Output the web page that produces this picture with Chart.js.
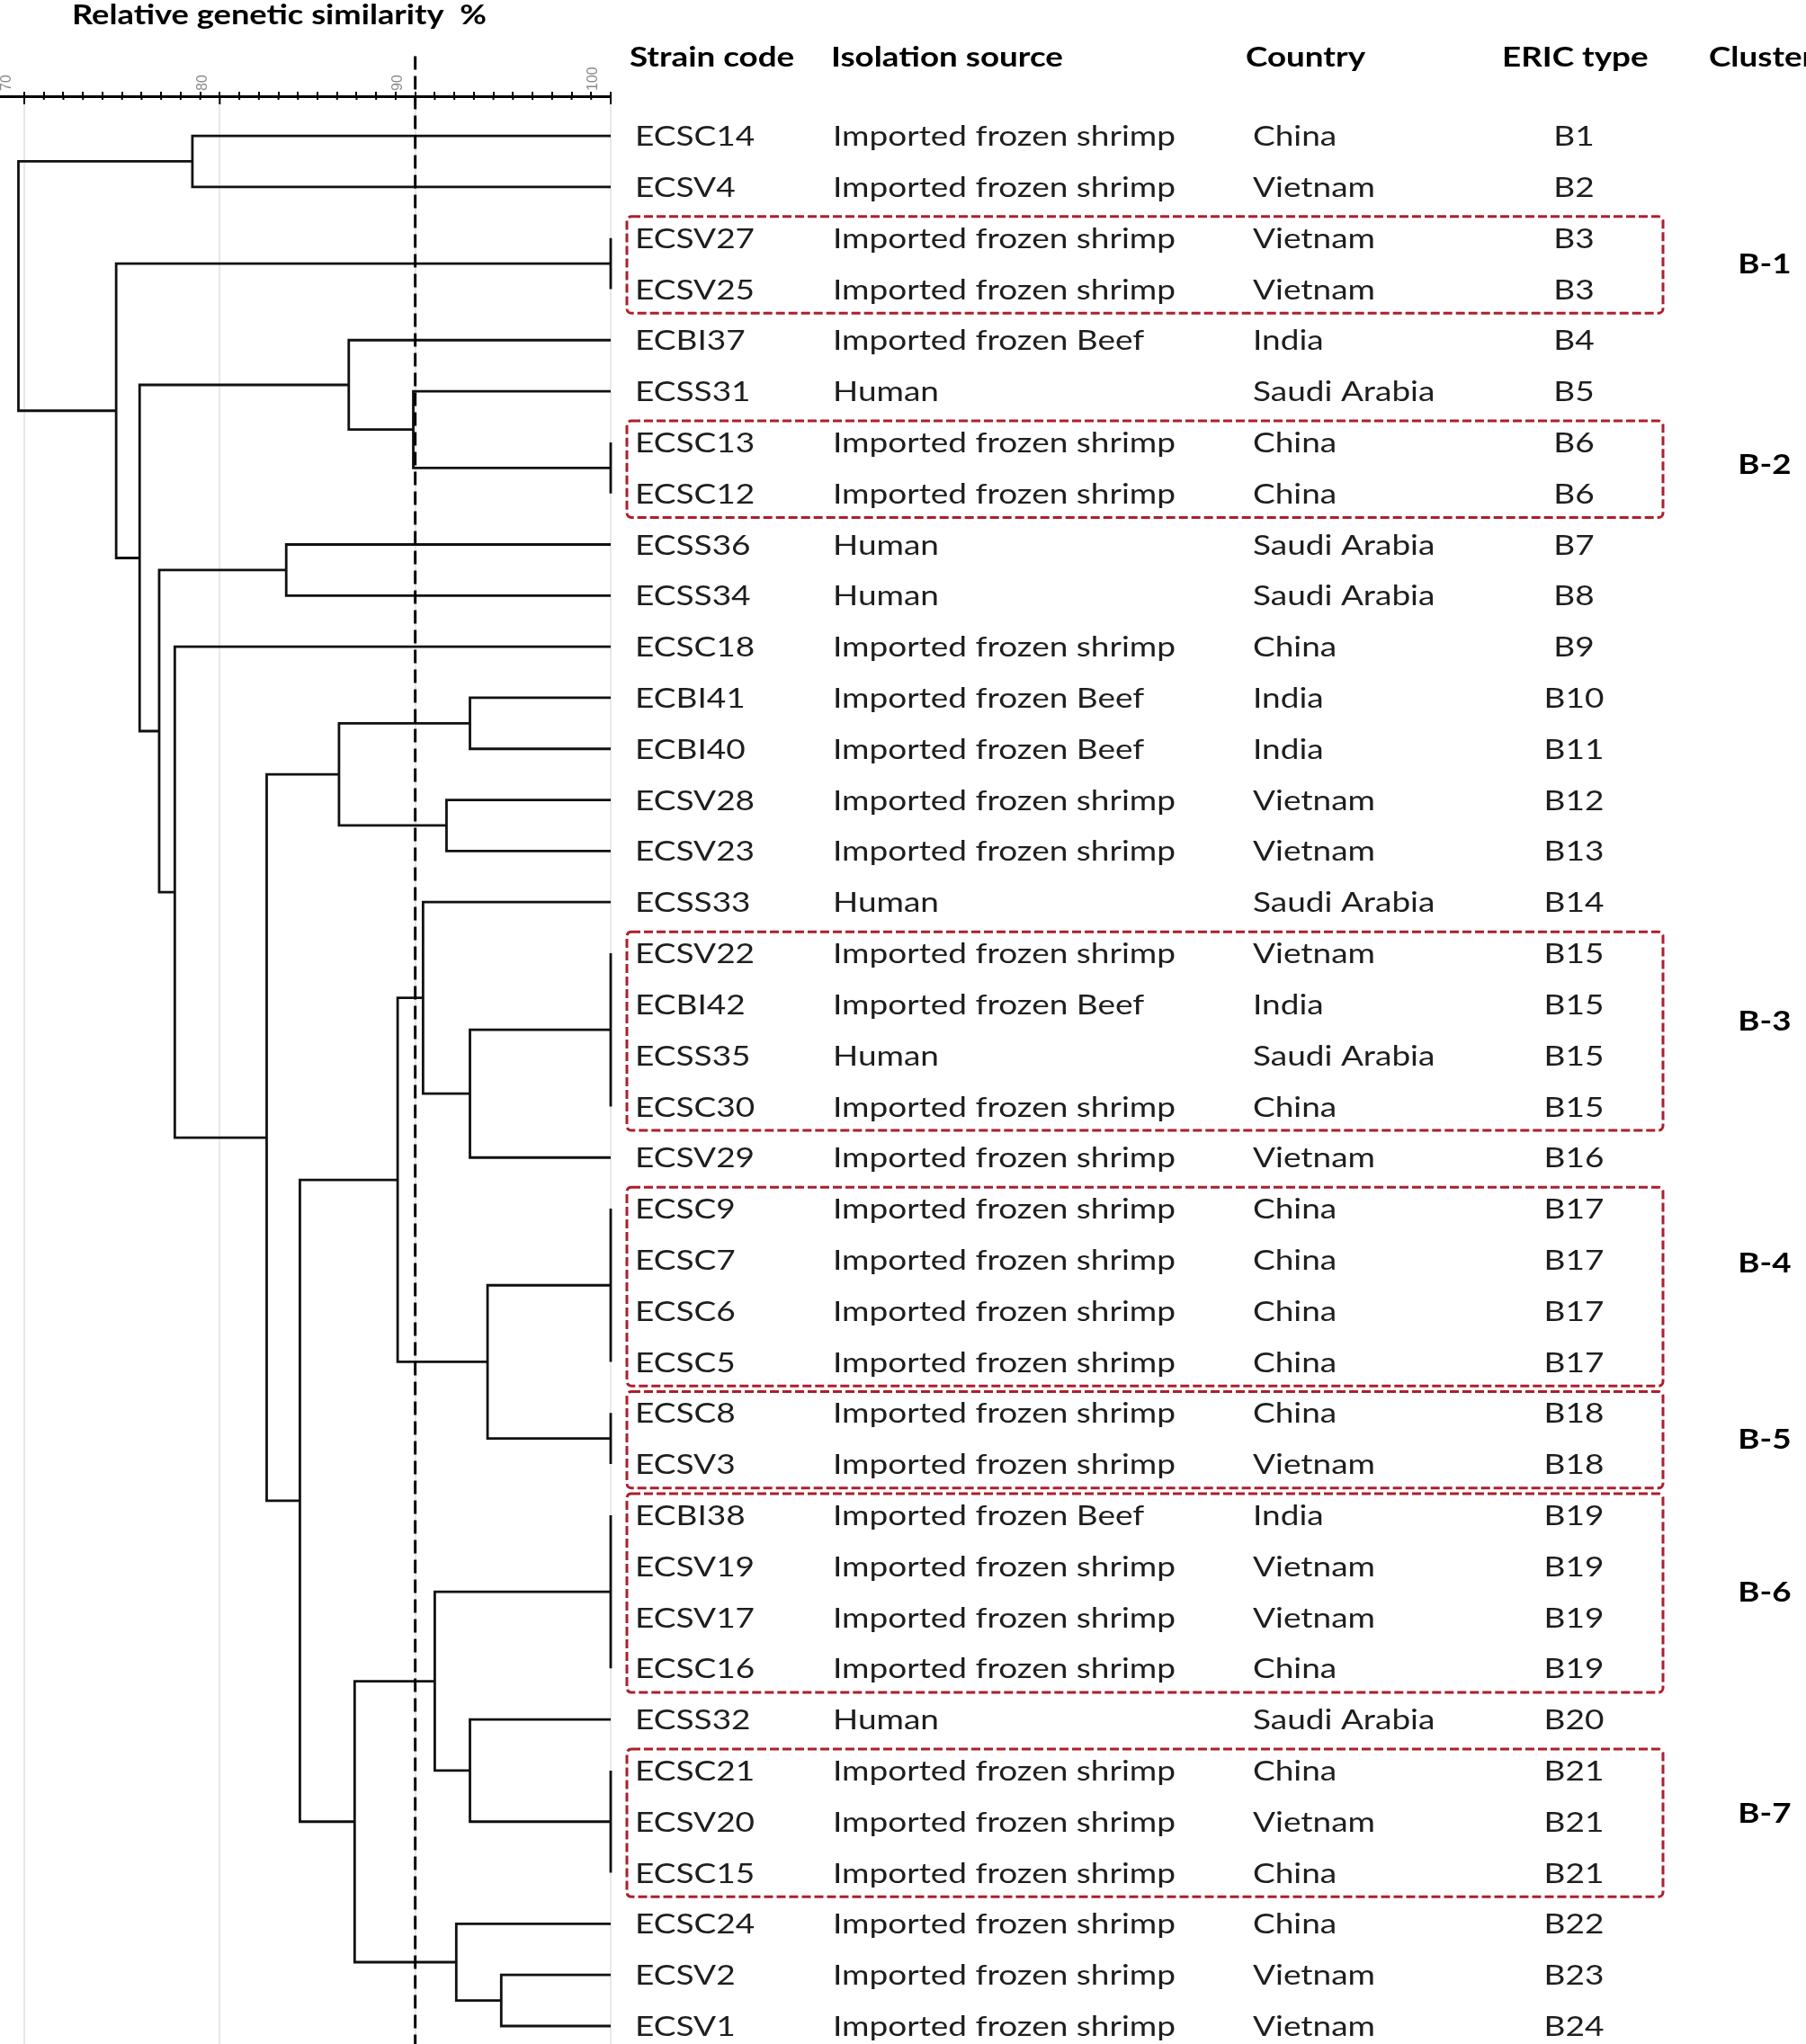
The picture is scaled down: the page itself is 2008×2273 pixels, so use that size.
<!DOCTYPE html>
<html>
<head>
<meta charset="utf-8">
<title>ERIC-PCR dendrogram</title>
<script src="https://cdn.jsdelivr.net/npm/chart.js@4.4.1/dist/chart.umd.min.js"></script>
<style>
    html, body { margin: 0; padding: 0; background: #fff; }
    #wrap { width: 2008px; height: 2273px; position: relative; }
</style>
</head>
<body>
<div id="wrap"><canvas id="dendro" width="2008" height="2273"></canvas></div>
<script>
/* DATA (rows top to bottom) */

const strainCodes = [
    'ECSC14', 'ECSV4', 'ECSV27', 'ECSV25', 'ECBI37', 'ECSS31', 'ECSC13', 'ECSC12',
    'ECSS36', 'ECSS34', 'ECSC18', 'ECBI41', 'ECBI40', 'ECSV28', 'ECSV23', 'ECSS33',
    'ECSV22', 'ECBI42', 'ECSS35', 'ECSC30', 'ECSV29', 'ECSC9', 'ECSC7', 'ECSC6',
    'ECSC5', 'ECSC8', 'ECSV3', 'ECBI38', 'ECSV19', 'ECSV17', 'ECSC16', 'ECSS32',
    'ECSC21', 'ECSV20', 'ECSC15', 'ECSC24', 'ECSV2', 'ECSV1'
]

const SHRIMP = 'Imported frozen shrimp'
const BEEF = 'Imported frozen Beef'
const HUMAN = 'Human'

const isolationSources = [
    SHRIMP, SHRIMP, SHRIMP, SHRIMP, BEEF, HUMAN, SHRIMP, SHRIMP,
    HUMAN, HUMAN, SHRIMP, BEEF, BEEF, SHRIMP, SHRIMP, HUMAN,
    SHRIMP, BEEF, HUMAN, SHRIMP, SHRIMP, SHRIMP, SHRIMP, SHRIMP,
    SHRIMP, SHRIMP, SHRIMP, BEEF, SHRIMP, SHRIMP, SHRIMP, HUMAN,
    SHRIMP, SHRIMP, SHRIMP, SHRIMP, SHRIMP, SHRIMP
]

const countries = [
    'China', 'Vietnam', 'Vietnam', 'Vietnam', 'India', 'Saudi Arabia', 'China', 'China',
    'Saudi Arabia', 'Saudi Arabia', 'China', 'India', 'India', 'Vietnam', 'Vietnam', 'Saudi Arabia',
    'Vietnam', 'India', 'Saudi Arabia', 'China', 'Vietnam', 'China', 'China', 'China',
    'China', 'China', 'Vietnam', 'India', 'Vietnam', 'Vietnam', 'China', 'Saudi Arabia',
    'China', 'Vietnam', 'China', 'China', 'Vietnam', 'Vietnam'
]

const ericTypes = [
    'B1', 'B2', 'B3', 'B3', 'B4', 'B5', 'B6', 'B6',
    'B7', 'B8', 'B9', 'B10', 'B11', 'B12', 'B13', 'B14',
    'B15', 'B15', 'B15', 'B15', 'B16', 'B17', 'B17', 'B17',
    'B17', 'B18', 'B18', 'B19', 'B19', 'B19', 'B19', 'B20',
    'B21', 'B21', 'B21', 'B22', 'B23', 'B24'
]

const columnHeaders = ['Strain code', 'Isolation source', 'Country', 'ERIC type', 'Cluster']

const clusterNames = ['B-1', 'B-2', 'B-3', 'B-4', 'B-5', 'B-6', 'B-7']
const clusterFirstRow = [2, 6, 16, 21, 25, 27, 32]
const clusterLastRow = [3, 7, 19, 24, 26, 30, 34]

// merges, bottom-up: numbers are leaf rows, 'n#' points to an earlier merge
const mergeChildren = [
    [2, 3],            // n0  B3 identical
    [6, 7],            // n1  B6
    [16, 17, 18, 19],  // n2  B15
    [21, 22, 23, 24],  // n3  B17
    [25, 26],          // n4  B18
    [27, 28, 29, 30],  // n5  B19
    [32, 33, 34],      // n6  B21
    [0, 1],            // n7
    [5, 'n1'],         // n8
    [4, 'n8'],         // n9
    [8, 9],            // n10
    [11, 12],          // n11
    [13, 14],          // n12
    ['n11', 'n12'],    // n13
    ['n2', 20],        // n14
    [15, 'n14'],       // n15
    ['n3', 'n4'],      // n16
    ['n15', 'n16'],    // n17
    [31, 'n6'],        // n18
    ['n5', 'n18'],     // n19
    [36, 37],          // n20
    [35, 'n20'],       // n21
    ['n19', 'n21'],    // n22
    ['n17', 'n22'],    // n23
    ['n13', 'n23'],    // n24
    [10, 'n24'],       // n25
    ['n10', 'n25'],    // n26
    ['n9', 'n26'],     // n27
    ['n0', 'n27'],     // n28
    ['n7', 'n28']      // n29 root
]

const mergeSimilarity = [
    100, 100, 100, 100, 100, 100, 100,
    78.6, 89.9, 86.6, 83.4, 92.8, 91.6, 86.1, 92.8, 90.4, 93.7, 89.1,
    92.8, 91.0, 94.4, 92.1, 86.9, 84.1, 82.4, 77.7, 76.9, 75.9, 74.7, 69.7
]

const axisTicks = [70, 80, 90, 100]
const axisTickLabels = ['70', '80', '90', '100']
const cutoffSimilarity = 90
const leafTip = 100

/* TREE -> DATASETS */

const lineStyle = {
    showLine: true,
    pointRadius: 0,
    borderColor: '#111',
    borderWidth: 2.8,
    borderJoinStyle: 'miter',
    borderCapStyle: 'butt',
    tension: 0,
    clip: false
}

const mergeY = []

function childPoint(c) {
    if (typeof c === 'number') return { x: leafTip, y: c }
    const k = Number(c.slice(1))
    return { x: mergeSimilarity[k], y: mergeY[k] }
}

const treeDatasets = mergeChildren.map((kids, i) => {
    const s = mergeSimilarity[i]
    const pts = kids.map(childPoint).sort((a, b) => a.y - b.y)
    const first = pts[0]
    const last = pts[pts.length - 1]
    mergeY[i] = (first.y + last.y) / 2
    return {
        label: 'n' + i,
        data: [
            { x: first.x, y: first.y },
            { x: s, y: first.y },
            { x: s, y: last.y },
            { x: last.x, y: last.y }
        ],
        ...lineStyle
    }
})

const Y_MIN = -0.775
const Y_MAX = 37.352

const cutoffDataset = {
    label: 'cutoff',
    data: [{ x: cutoffSimilarity, y: -1.56 }, { x: cutoffSimilarity, y: Y_MAX }],
    ...lineStyle,
    borderColor: '#000',
    borderWidth: 3,
    borderDash: [15, 7]
}

/* TABLE + DECOR */

const FONT = 'Lato, "Open Sans", sans-serif'
const FONT_SIZE = 31
const CAP_HALF = FONT_SIZE * 0.358

const COL_X = [706, 926, 1393, 1750]
const HEAD_X = [700, 924, 1385, 1670, 1900]
const BOX_LEFT = 697
const BOX_RIGHT = 1849
const CLUSTER_X = 1962
const CLUSTER_NUDGE = [0, -4, -10, -25, 0, 0, -10]

function stretchText(ctx, text, x, y, align, sx) {
    ctx.save()
    ctx.translate(x, y)
    ctx.scale(sx, 1)
    ctx.textAlign = align
    ctx.textBaseline = 'alphabetic'
    ctx.fillText(text, 0, 0)
    ctx.restore()
}

const tablePlugin = {
    id: 'strainTable',
    afterDraw(chart) {
        const { ctx } = chart
        const x = chart.scales.x
        const y = chart.scales.y

        // tick marks below the axis line
        ctx.save()
        ctx.strokeStyle = '#000'
        ctx.lineWidth = 2
        x.ticks.forEach((t) => {
            const px = x.getPixelForValue(t.value)
            const len = t.value % 10 === 0 ? 9 : 4
            ctx.beginPath()
            ctx.moveTo(px, x.bottom)
            ctx.lineTo(px, x.bottom + len)
            ctx.stroke()
        })
        ctx.restore()

        const regular = `${FONT_SIZE}px ${FONT}`
        const bold = `bold ${FONT_SIZE}px ${FONT}`

        ctx.font = regular
        const sxBody = 381 / ctx.measureText(SHRIMP).width
        ctx.font = bold
        const sxBold = 258 / ctx.measureText('Isolation source').width
        const title = 'Relative genetic similarity  %'
        const sxTitle = 461 / ctx.measureText(title).width

        // title
        ctx.fillStyle = '#000'
        stretchText(ctx, title, 80, 16 + CAP_HALF, 'left', sxTitle)

        // headers
        columnHeaders.forEach((h, i) => {
            stretchText(ctx, h, HEAD_X[i], 63 + CAP_HALF, 'left', sxBold)
        })

        // rows
        ctx.font = regular
        ctx.fillStyle = '#1e1e1e'
        strainCodes.forEach((code, i) => {
            const py = y.getPixelForValue(i) + CAP_HALF
            stretchText(ctx, code, COL_X[0], py, 'left', sxBody)
            stretchText(ctx, isolationSources[i], COL_X[1], py, 'left', sxBody)
            stretchText(ctx, countries[i], COL_X[2], py, 'left', sxBody)
            stretchText(ctx, ericTypes[i], COL_X[3], py, 'center', sxBody)
        })

        // cluster boxes + labels
        clusterNames.forEach((name, i) => {
            const top = y.getPixelForValue(clusterFirstRow[i] - 0.42)
            const bot = y.getPixelForValue(clusterLastRow[i] + 0.47)
            ctx.save()
            ctx.strokeStyle = '#ad1f2b'
            ctx.lineWidth = 3
            ctx.setLineDash([10, 4])
            ctx.beginPath()
            ctx.roundRect(BOX_LEFT, top, BOX_RIGHT - BOX_LEFT, bot - top, 5)
            ctx.stroke()
            ctx.restore()

            const mid = y.getPixelForValue((clusterFirstRow[i] + clusterLastRow[i]) / 2)
            ctx.font = bold
            ctx.fillStyle = '#000'
            stretchText(ctx, name, CLUSTER_X, mid + CLUSTER_NUDGE[i] + CAP_HALF, 'center', sxBold)
        })
    }
}

/* CHART */

new Chart(document.getElementById('dendro'), {
    type: 'scatter',
    data: { datasets: [cutoffDataset, ...treeDatasets] },
    options: {
        responsive: false,
        animation: false,
        events: [],
        layout: { padding: { top: 60, right: 2008 - 679, left: 0, bottom: 0 } },
        plugins: {
            legend: { display: false },
            tooltip: { enabled: false }
        },
        scales: {
            x: {
                type: 'linear',
                position: 'top',
                min: 68.757,
                max: 100,
                border: { display: true, color: '#000', width: 3 },
                grid: {
                    color: (c) => (c.tick && c.tick.value % 10 === 0 ? '#e8e8e8' : 'rgba(0,0,0,0)'),
                    lineWidth: 2,
                    drawTicks: true,
                    tickLength: 5,
                    tickColor: '#000',
                    tickWidth: 2
                },
                ticks: {
                    stepSize: 1,
                    autoSkip: false,
                    minRotation: 90,
                    maxRotation: 90,
                    padding: 1,
                    color: '#8a8a8a',
                    font: { family: 'Liberation Sans', size: 16 },
                    callback: (v) => {
                        const i = axisTicks.indexOf(v)
                        return i < 0 ? '' : axisTickLabels[i]
                    }
                },
                afterBuildTicks: (s) => {
                    s.ticks = s.ticks.filter((t) => Number.isInteger(t.value) && t.value >= 70)
                },
                afterFit: (s) => {
                    s.height = 47
                    s.paddingLeft = 0
                    s.paddingRight = 0
                }
            },
            y: {
                type: 'linear',
                reverse: true,
                min: Y_MIN,
                max: Y_MAX,
                display: false
            }
        }
    },
    plugins: [tablePlugin]
})
</script>
</body>
</html>
